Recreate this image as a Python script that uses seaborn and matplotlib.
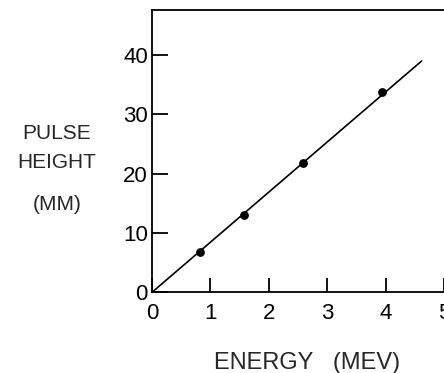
import matplotlib
matplotlib.use("Agg")
import matplotlib.pyplot as plt
import seaborn as sns
import pandas as pd

# Data
energy = [0.82, 1.58, 2.59, 3.94]
pulse_height = [6.85, 13.0, 21.75, 33.8]
fit_energy = [0.0, 4.61]
fit_height = [0.0, 39.0]
xtick_vals = [0, 1, 2, 3, 4, 5]
xtick_labels = ["0", "1", "2", "3", "4", "5"]
ytick_vals = [0, 10, 20, 30, 40]
ytick_labels = ["0", "10", "20", "30", "40"]
ylabel_lines = ["PULSE", "HEIGHT", "(MM)"]
xlabel_text = "ENERGY   (MEV)"

sns.set_style("ticks")
plt.rcParams['font.family'] = ['Liberation Sans', 'DejaVu Sans']

fig = plt.figure(figsize=(4.44, 3.73), dpi=100)
ax = fig.add_axes([152 / 444, (373 - 292.3) / 373, 310 / 444, (292.3 - 10) / 373])

pts = pd.DataFrame({"E": energy, "H": pulse_height})
fit = pd.DataFrame({"E": fit_energy, "H": fit_height})
sns.lineplot(data=fit, x="E", y="H", ax=ax, color="black", linewidth=1.2)
sns.scatterplot(data=pts, x="E", y="H", ax=ax, color="black", s=40,
                edgecolor="black", linewidth=0, zorder=3)

ax.set_xlim(0, 5.3)
ax.set_ylim(0, 47.6)
ax.set_xticks(xtick_vals)
ax.set_xticklabels(xtick_labels)
ax.set_yticks(ytick_vals)
ax.set_yticklabels(ytick_labels)
ax.tick_params(axis="x", direction="in", length=10, width=1.3, pad=8,
               labelsize=16, colors="black")
ax.tick_params(axis="y", direction="in", length=11.5, width=1.3, pad=3,
               labelsize=16, colors="black")
for s in ax.spines.values():
    s.set_linewidth(1.3)
    s.set_color("black")
ax.set_xlabel("")
ax.set_ylabel("")

for txt, yp in zip(ylabel_lines, [133.5, 162, 204]):
    fig.text(57 / 444, 1 - yp / 373, txt, ha="center", va="center", fontsize=15)
fig.text(307 / 444, 1 - 363 / 373, xlabel_text, ha="center", va="center", fontsize=17)

fig.savefig("out.png", dpi=100)
